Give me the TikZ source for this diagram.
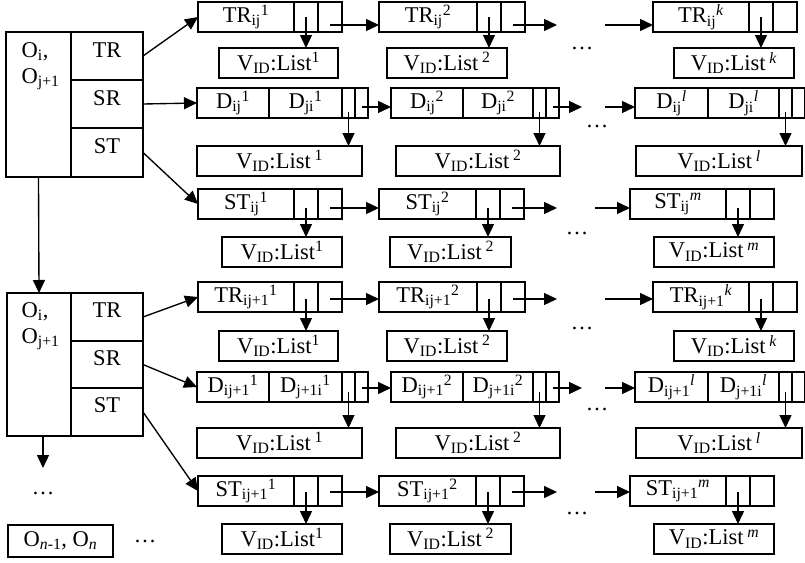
\documentclass[tikz,border=0pt]{standalone}
\usepackage{fontspec}
\setmainfont{Liberation Serif}
\usetikzlibrary{arrows.meta}
\newcommand\vl[1]{V\textsubscript{ID}:List\textsuperscript{#1}}
\newcommand\vls[1]{V\textsubscript{ID}:List\,\textsuperscript{#1}}
\newcommand\recthree[5]{%
  \node[cell, minimum width=#4pt] (#1a) at (#2,#3) {#5};
  \node[cell, minimum width=24pt] (#1b) at (#1a.north east) {};
  \node[cell, minimum width=24pt] (#1c) at (#1b.north east) {};}
\newcommand\recfour[7]{%
  \node[cell, minimum width=#4pt] (#1a) at (#2,#3) {#5};
  \node[cell, minimum width=#6pt] (#1d) at (#1a.north east) {#7};
  \node[cell, minimum width=13pt] (#1b) at (#1d.north east) {};
  \node[cell, minimum width=13pt] (#1c) at (#1b.north east) {};}
\begin{document}
\begin{tikzpicture}[x=1pt,y=-1pt, line width=1.35pt,
  every node/.style={font=\fontsize{22.5}{26}\selectfont},
  cell/.style={draw, rectangle, inner sep=0pt, outer sep=0pt, anchor=north west, minimum height=30pt},
  arr/.style={-{Triangle[length=13pt,width=12pt]}},
  dotsn/.style={anchor=base, inner sep=0pt}]
\useasboundingbox (0,0) rectangle (805,562);

% ===== Block 1 =====
\node[cell, minimum width=65pt, minimum height=145pt] (bL) at (6,32) {};
\node[cell, minimum width=72pt, minimum height=48pt, text height=25pt, text depth=23pt] (bTR) at (71,32) {TR};
\node[cell, minimum width=72pt, minimum height=48pt, text height=25pt, text depth=23pt] (bSR) at (bTR.south west) {SR};
\node[cell, minimum width=72pt, minimum height=49pt, text height=25pt, text depth=24pt] (bST) at (bSR.south west) {ST};
\node[anchor=base west, inner sep=0pt] (bO1) at (21,57) {O\textsubscript{i},};
\node[anchor=base west, inner sep=0pt] (bO2) at (21,83) {O\textsubscript{j+1}};

% top TR row
\recthree{ta}{198}{2}{96}{TR\textsubscript{ij}\textsuperscript{1}}
\node[cell, minimum width=119pt] (tav) at (219,48) {\vl{1}};
\recthree{tb}{379}{2}{98}{TR\textsubscript{ij}\textsuperscript{2}}
\node[cell, minimum width=120pt] (tbv) at (387,48) {\vls{2}};
\recthree{tk}{653}{2}{96}{TR\textsubscript{ij}\textsuperscript{\textit{k}}}
\node[cell, minimum width=120pt] (tkv) at (674,48) {\vls{\textit{k}}};
\node[dotsn] (tdots) at (582,49) {\textellipsis};
\coordinate (tgo) at (557,25); \coordinate (tcome) at (605,25);
\draw[arr] (tab.center) -- (tab.center |- tav.north);
\draw[arr] (tbb.center) -- (tbb.center |- tbv.north);
\draw[arr] (tkb.center) -- (tkb.center |- tkv.north);
\draw[arr] ([yshift=-8pt]tac.center) -- ([yshift=-8pt]tba.west);
\draw[arr] ([yshift=-8pt]tbc.center) -- (tgo);
\draw[arr] (tcome) -- (tcome -| tka.west);

% top D row
\recfour{da}{197}{88}{72}{D\textsubscript{ij}\textsuperscript{1}}{73}{D\textsubscript{ji}\textsuperscript{1}}
\node[cell, minimum width=165pt] (dav) at (197,146) {\vls{1}};
\recfour{db}{391}{88}{72}{D\textsubscript{ij}\textsuperscript{2}}{70}{D\textsubscript{ji}\textsuperscript{2}}
\node[cell, minimum width=164pt] (dbv) at (396,146) {\vls{2}};
\recfour{dl}{635}{88}{73}{D\textsubscript{ij}\textsuperscript{\textit{l}}}{71}{D\textsubscript{ji}\textsuperscript{\textit{l}}}
\node[cell, minimum width=166pt] (dlv) at (636,146) {\vls{\textit{l}}};
\node[dotsn] (ddots) at (597,127) {\textellipsis};
\coordinate (dgo) at (582,107); \coordinate (dcome) at (605,107);
\draw[arr] ([yshift=6pt]dab.south) -- (dab.south |- dav.north);
\draw[arr] ([yshift=6pt]dbb.south) -- (dbb.south |- dbv.north);
\draw[arr] ([yshift=6pt]dlb.south) -- (dlb.south |- dlv.north);
\draw[arr] ([yshift=-4pt]dac.center) -- ([yshift=-4pt]dba.west);
\draw[arr] ([yshift=-4pt]dbc.center) -- (dgo);
\draw[arr] (dcome) -- (dcome -| dla.west);

% top ST row
\recthree{sa}{198}{189}{96}{ST\textsubscript{ij}\textsuperscript{1}}
\node[cell, minimum width=120pt] (sav) at (222,237) {\vl{1}};
\recthree{sb}{379}{189}{97}{ST\textsubscript{ij}\textsuperscript{2}}
\node[cell, minimum width=121pt] (sbv) at (390,237) {\vls{2}};
\recthree{sm}{630}{189}{96}{ST\textsubscript{ij}\textsuperscript{\textit{m}}}
\node[cell, minimum width=120pt] (smv) at (654,237) {\vls{\textit{m}}};
\node[dotsn] (sdots) at (577,234) {\textellipsis};
\coordinate (sgo) at (557,208); \coordinate (scome) at (595,208);
\draw[arr] ([yshift=-4pt]sab.center) -- (sab.center |- sav.north);
\draw[arr] ([yshift=-4pt]sbb.center) -- (sbb.center |- sbv.north);
\draw[arr] ([yshift=-4pt]smb.center) -- (smb.center |- smv.north);
\draw[arr] ([yshift=-4pt]sac.center) -- ([yshift=-4pt]sba.west);
\draw[arr] ([yshift=-4pt]sbc.center) -- (sgo);
\draw[arr] (scome) -- (scome -| sma.west);

\draw[arr] (bTR.east) -- (taa.west);
\draw[arr] (bSR.east) -- (daa.west);
\draw[arr] (bST.east) -- (saa.west);

% ===== Block 2 =====
\node[cell, minimum width=64pt, minimum height=143pt] (cL) at (7,293) {};
\node[cell, minimum width=72pt, minimum height=48pt, text height=24pt, text depth=24pt] (cTR) at (71,293) {TR};
\node[cell, minimum width=72pt, minimum height=47pt, text height=24pt, text depth=23pt] (cSR) at (cTR.south west) {SR};
\node[cell, minimum width=72pt, minimum height=48pt, text height=24pt, text depth=24pt] (cST) at (cSR.south west) {ST};
\node[anchor=base west, inner sep=0pt] (cO1) at (21,317) {O\textsubscript{i},};
\node[anchor=base west, inner sep=0pt] (cO2) at (21,343) {O\textsubscript{j+1}};
\draw[arr] (bL.south) -- (cL.north);
\coordinate (cdown) at (43,468);
\draw[arr] ([xshift=4pt]cL.south) -- (cdown);
\node[dotsn] (cdots) at (43,494) {\textellipsis};
\node[cell, minimum width=105pt, minimum height=32pt] (on) at (8,525) {O\textsubscript{\textit{n}-1}, O\textsubscript{\textit{n}}};
\node[dotsn] (ondots) at (145,542) {\textellipsis};

% bottom TR row
\recthree{ua}{198}{282}{96}{TR\textsubscript{ij+1}\textsuperscript{1}}
\node[cell, minimum width=119pt] (uav) at (219,331) {\vl{1}};
\recthree{ub}{379}{282}{98}{TR\textsubscript{ij+1}\textsuperscript{2}}
\node[cell, minimum width=120pt] (ubv) at (387,331) {\vls{2}};
\recthree{uk}{653}{282}{96}{TR\textsubscript{ij+1}\textsuperscript{\textit{k}}}
\node[cell, minimum width=120pt] (ukv) at (674,331) {\vls{\textit{k}}};
\node[dotsn] (udots) at (582,329) {\textellipsis};
\coordinate (ugo) at (557,299); \coordinate (ucome) at (605,299);
\draw[arr] ([yshift=-2pt]uab.center) -- (uab.center |- uav.north);
\draw[arr] ([yshift=-2pt]ubb.center) -- (ubb.center |- ubv.north);
\draw[arr] ([yshift=-2pt]ukb.center) -- (ukb.center |- ukv.north);
\draw[arr] ([yshift=-2pt]uac.center) -- ([yshift=-2pt]uba.west);
\draw[arr] ([yshift=-2pt]ubc.center) -- (ugo);
\draw[arr] (ucome) -- (ucome -| uka.west);

% bottom D row
\recfour{ea}{197}{372}{72}{D\textsubscript{ij+1}\textsuperscript{1}}{73}{D\textsubscript{j+1i}\textsuperscript{1}}
\node[cell, minimum width=165pt] (eav) at (197,428) {\vls{1}};
\recfour{eb}{391}{372}{72}{D\textsubscript{ij+1}\textsuperscript{2}}{70}{D\textsubscript{j+1i}\textsuperscript{2}}
\node[cell, minimum width=164pt] (ebv) at (396,428) {\vls{2}};
\recfour{el}{635}{372}{73}{D\textsubscript{ij+1}\textsuperscript{\textit{l}}}{71}{D\textsubscript{j+1i}\textsuperscript{\textit{l}}}
\node[cell, minimum width=166pt] (elv) at (636,428) {\vls{\textit{l}}};
\node[dotsn] (edots) at (597,410) {\textellipsis};
\coordinate (ego) at (582,388); \coordinate (ecome) at (605,388);
\draw[arr] ([yshift=-5pt]eab.center) -- (eab.center |- eav.north);
\draw[arr] ([yshift=-5pt]ebb.center) -- (ebb.center |- ebv.north);
\draw[arr] ([yshift=-5pt]elb.center) -- (elb.center |- elv.north);
\draw[arr] ([yshift=-1pt]eac.center) -- ([yshift=-1pt]eba.west);
\draw[arr] ([yshift=-1pt]ebc.center) -- (ego);
\draw[arr] (ecome) -- (ecome -| ela.west);

% bottom ST row
\recthree{va}{198}{476}{96}{ST\textsubscript{ij+1}\textsuperscript{1}}
\node[cell, minimum width=120pt] (vav) at (222,524) {\vl{1}};
\recthree{vb}{379}{476}{97}{ST\textsubscript{ij+1}\textsuperscript{2}}
\node[cell, minimum width=121pt] (vbv) at (390,524) {\vls{2}};
\recthree{vm}{630}{476}{96}{ST\textsubscript{ij+1}\textsuperscript{\textit{m}}}
\node[cell, minimum width=120pt] (vmv) at (654,524) {\vls{\textit{m}}};
\node[dotsn] (vdots) at (577,514) {\textellipsis};
\coordinate (vgo) at (557,492); \coordinate (vcome) at (595,492);
\draw[arr] ([yshift=-1pt]vab.center) -- (vab.center |- vav.north);
\draw[arr] ([yshift=-1pt]vbb.center) -- (vbb.center |- vbv.north);
\draw[arr] ([yshift=-1pt]vmb.center) -- (vmb.center |- vmv.north);
\draw[arr] ([yshift=-1pt]vac.center) -- ([yshift=-1pt]vba.west);
\draw[arr] ([yshift=-1pt]vbc.center) -- (vgo);
\draw[arr] (vcome) -- (vcome -| vma.west);

\draw[arr] (cTR.east) -- (uaa.west);
\draw[arr] (cSR.east) -- (eaa.west);
\draw[arr] (cST.east) -- (vaa.west);
\end{tikzpicture}
\end{document}
